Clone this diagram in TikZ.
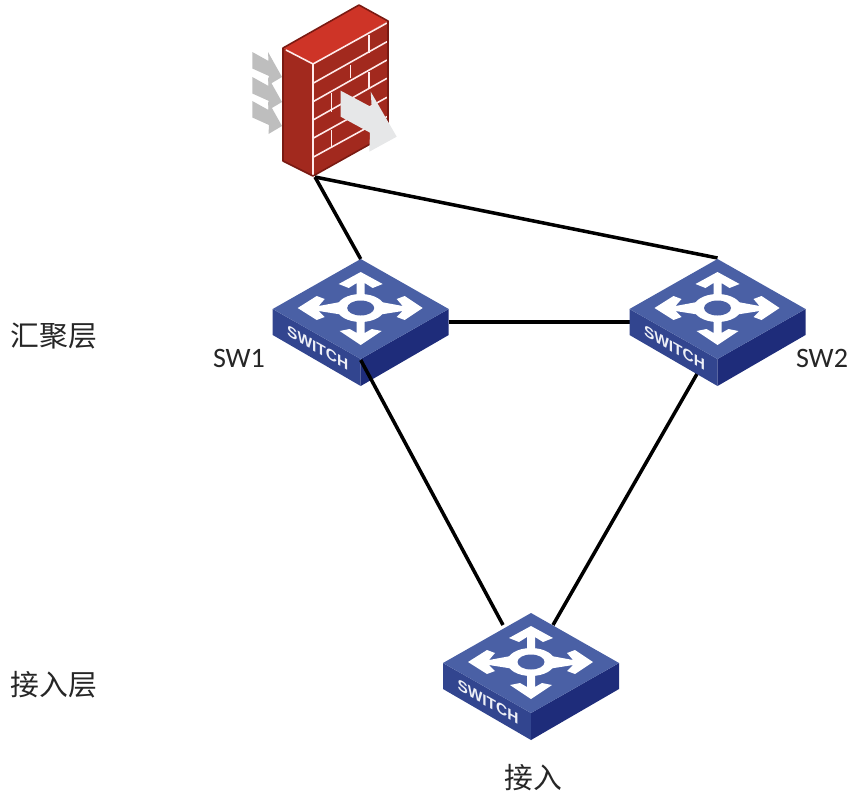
\documentclass[tikz,border=0pt]{standalone}
\usepackage{fontspec}
\setmainfont{Carlito}
\newfontfamily\cjkfont{Noto Sans CJK SC}
\newfontfamily\swfont{Liberation Sans}
\usepackage{tikz}
\usetikzlibrary{positioning}
\definecolor{swtop}{HTML}{4A60A5}
\definecolor{swleft}{HTML}{32458F}
\definecolor{swright}{HTML}{1E2C7A}
\definecolor{fwtop}{HTML}{CE3427}
\definecolor{fwface}{HTML}{A2291E}
\definecolor{fwedge}{HTML}{7A1A12}
\definecolor{fwgrey}{HTML}{BEBEBE}
\definecolor{fwarrow}{HTML}{E6E7E8}
\definecolor{lblgrey}{HTML}{262626}

\begin{document}
\begin{tikzpicture}[x=0.02cm,y=-0.02cm]
\tikzstyle{lnk}=[draw=black, line width=2pt]
\tikzstyle{lbl}=[inner sep=0pt, text=lblgrey, font=\fontsize{16}{18}\selectfont]
\tikzstyle{cjk}=[lbl, font=\fontsize{16.4}{18}\selectfont\cjkfont]
\tikzstyle{mortar}=[draw=white!92!red, line width=0.9pt]
\tikzset{switchicon/.pic={
  \fill[swleft] (-88,0) -- (0,50) -- (0,77) -- (-88,26) -- cycle;
  \fill[swright] (88,0) -- (0,50) -- (0,77) -- (88,26) -- cycle;
  \fill[swtop] (0,-50) -- (88,0) -- (0,50) -- (-88,0) -- cycle;
  \fill[white] (-4,-26) -- (-12,-21) -- (-22,-25) -- (0,-37) -- (22,-25) -- (12,-21) -- (4,-26)
    -- (4,-10) -- (42,-3) -- (36,-10) -- (44,-13) -- (62,-1) -- (44,11) -- (36,8) -- (42,2)
    -- (4,8) -- (4,24) -- (11,20) -- (21,22) -- (0,36) -- (-21,22) -- (-11,20) -- (-4,24)
    -- (-4,8) -- (-42,2) -- (-36,8) -- (-44,11) -- (-63,-1) -- (-44,-13) -- (-36,-10) -- (-42,-3)
    -- (-4,-10) -- cycle;
  \fill[white] (0,-1) ellipse (24 and 14);
  \fill[swtop] (0,-1) ellipse (13.5 and 7.5);
  \node[inner sep=0pt, text=white!90!swtop, yslant=-0.57, font=\fontsize{8.8}{9}\selectfont\swfont\bfseries] (-txt) at (-43,39) {SWITCH};
  \coordinate (-top) at (0,-50);
  \coordinate (-east) at (88,13);
  \coordinate (-west) at (-88,13);
  \coordinate (-front) at (0,51);
  \coordinate (-sw) at (-20,64);
  \coordinate (-na) at (-28,-38);
  \coordinate (-nb) at (22,-38);
}}
%firewall
\useasboundingbox (0,0) rectangle (851,801);
\foreach \dy in {-49,-24,0}{
\fill[fwgrey, yshift=-\dy*0.02cm] (252.3,101) -- (268.5,110) -- (268,101) -- (282,126) -- (268.5,134) -- (269,125) -- (252.3,117.5) -- cycle;}
\fill[fwface] (283,48) -- (313,64) -- (388,21) -- (388,134) -- (313,176) -- (283,161) -- cycle;
\fill[fwtop] (283,48) -- (359,5) -- (388,21) -- (313,64) -- cycle;
\foreach \l/\r in {83.3/41.7, 101.7/60, 120/78.3, 138.3/97.3, 157.3/116.7}{
\draw[mortar] (313,\l) -- (387,\r);}
\draw[mortar] (286,50) -- (313,64) -- (387,23);
\draw[mortar] (313,64) -- (313,176);
\foreach \x/\a/\b in {369/35/53, 350.7/65/78, 369/72/88, 331.5/93/112, 331.5/130/147}{
\draw[mortar] (\x,\a) -- (\x,\b);}
\draw[fwedge, line width=0.9pt, line join=round] (283,48) -- (359,5) -- (388,21) -- (388,134) -- (313,176) -- (283,161) -- cycle;
\fill[fwarrow] (340.7,90.7) -- (371.7,107.3) -- (370.7,91.7) -- (396.7,136.7) -- (369.3,151.7) -- (370,132.7) -- (340.7,116.7) -- cycle;
\coordinate (FW) at (315,177);
%switches
\pic (SW1) at (360.7,309) {switchicon};
\coordinate (SW2-hook) at (717.5,258);
\coordinate (SW2-w) at (630,322);
\coordinate (SW2-s) at (697.5,373);
\coordinate (SW3-a) at (503,625);
\coordinate (SW3-b) at (553,625);
\draw[lnk] (FW) -- (SW1-top);
\draw[lnk] (FW) -- (SW2-hook);
\draw[lnk] (SW1-east) -- (SW2-w);
\draw[lnk] (SW1-front) -- (SW3-a);
\draw[lnk] (SW2-s) -- (SW3-b);
\pic (SW2) at (717.5,309) {switchicon};
\pic (SW3) at (531,663) {switchicon};
%labels
\node[cjk] (agg) at (54,336) {汇聚层};
\node[cjk] (acc) at (54,685) {接入层};
\node[cjk] (accsw) at (533,778) {接入};
\node[lbl] (sw1lbl) at (239,358) {SW1};
\node[lbl] (sw2lbl) at (822,358) {SW2};
\end{tikzpicture}
\end{document}
